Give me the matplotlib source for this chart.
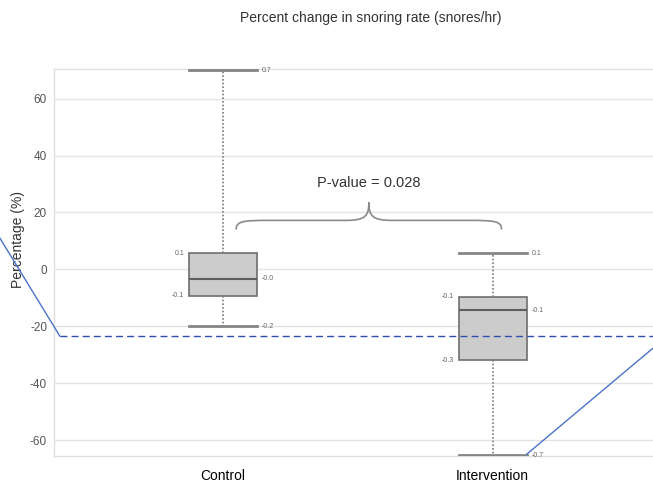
import matplotlib
matplotlib.use("Agg")
import matplotlib.pyplot as plt
from matplotlib.path import Path
from matplotlib.patches import PathPatch

# ---- data ----
groups = ["Control", "Intervention"]
whislo = [-20.0, -65.3]
q1 = [-9.2, -32.0]
med = [-3.3, -14.4]
q3 = [5.6, -9.6]
whishi = [70.0, 5.6]
lbl_whishi = ["0.7", "0.1"]
lbl_q3 = ["0.1", "-0.1"]
lbl_med = ["-0.0", "-0.1"]
lbl_q1 = ["-0.1", "-0.3"]
lbl_whislo = ["-0.2", "-0.7"]
yticks = [-60, -40, -20, 0, 20, 40, 60]
ref_line_y = -23.5
left_line_x = [0.171, 0.394]
left_line_y = [11.0, -23.5]
right_line_x = [2.126, 2.595]
right_line_y = [-65.0, -27.7]
brace_x = [1.048, 2.033]
brace_y = [14.0, 17.2, 23.5]
p_text = "P-value = 0.028"
title = "Percent change in snoring rate (snores/hr)"

plt.rcParams['font.family'] = ['Liberation Sans', 'DejaVu Sans']

fig = plt.figure(figsize=(6.53, 4.82), dpi=100)
ax = fig.add_axes([54/653, 1-456/482, 1-54/653, (456-69)/482])

positions = [1, 2]
width = 0.253
stats = []
for i, g in enumerate(groups):
    stats.append(dict(label=g, whislo=whislo[i], q1=q1[i], med=med[i],
                      q3=q3[i], whishi=whishi[i], fliers=[]))

ax.bxp(stats, positions=positions, widths=width, showfliers=False,
       patch_artist=True,
       boxprops=dict(facecolor='#cccccc', edgecolor='#6e6e6e', linewidth=1.2),
       medianprops=dict(color='#5e5e5e', linewidth=1.5),
       whiskerprops=dict(color='#7a7a7a', linestyle=(0, (1, 1.2)), linewidth=1.2),
       capprops=dict(color='#858585', linewidth=2.0),
       capwidths=width, zorder=3)

ax.set_xlim(0.372, 2.595)
ax.set_ylim(-65.6, 70.4)
ax.set_yticks(yticks)
ax.set_yticklabels([str(t) for t in yticks], color='#555555', fontsize=8.5)
ax.tick_params(axis='y', length=0, pad=5)
ax.tick_params(axis='x', length=0, pad=9, labelsize=10)
ax.grid(axis='y', color='#e3e3e3', linewidth=1.0, zorder=0)
ax.set_axisbelow(True)
for s in ['top', 'bottom', 'left']:
    ax.spines[s].set_color('#e0e0e0')
    ax.spines[s].set_linewidth(1.0)
ax.spines['right'].set_visible(False)

ax.set_ylabel("Percentage (%)", fontsize=10, color='#333333')
ax.yaxis.set_label_coords(-0.049, 0.56)

# value labels
fs = 5
lc = '#666666'
off = 0.018
for i, p in enumerate(positions):
    ax.text(p + width/2 + off, whishi[i], lbl_whishi[i], fontsize=fs, color=lc, ha='left', va='center')
    ax.text(p - width/2 - off, q3[i], lbl_q3[i], fontsize=fs, color=lc, ha='right', va='center')
    ax.text(p + width/2 + off, med[i], lbl_med[i], fontsize=fs, color=lc, ha='left', va='center')
    ax.text(p - width/2 - off, q1[i], lbl_q1[i], fontsize=fs, color=lc, ha='right', va='center')
    ax.text(p + width/2 + off, whislo[i], lbl_whislo[i], fontsize=fs, color=lc, ha='left', va='center')

# reference dashed line and blue lines
ax.plot([left_line_x[1], right_line_x[1]], [ref_line_y, ref_line_y], color='#2f4fb0',
        linewidth=1.0, dashes=(5, 3), zorder=4, clip_on=False)
ax.plot(left_line_x, left_line_y, color='#4a73c9', linewidth=1.0, clip_on=False, zorder=4)
ax.plot(right_line_x, right_line_y, color='#4a73c9', linewidth=1.0, clip_on=False, zorder=4)

# brace
x0, x1 = brace_x
xm = (x0 + x1) / 2
ye, yh, yp = brace_y
a = 0.12
b = 0.085
verts = [
    (x0, ye),
    (x0, ye + (yh - ye) * 0.9), (x0 + a * 0.2, yh), (x0 + a, yh),
    (xm - b, yh),
    (xm - b * 0.15, yh), (xm, yh + (yp - yh) * 0.25), (xm, yp),
    (xm, yh + (yp - yh) * 0.25), (xm + b * 0.15, yh), (xm + b, yh),
    (x1 - a, yh),
    (x1 - a * 0.2, yh), (x1, ye + (yh - ye) * 0.9), (x1, ye),
]
codes = [Path.MOVETO,
         Path.CURVE4, Path.CURVE4, Path.CURVE4,
         Path.LINETO,
         Path.CURVE4, Path.CURVE4, Path.CURVE4,
         Path.CURVE4, Path.CURVE4, Path.CURVE4,
         Path.LINETO,
         Path.CURVE4, Path.CURVE4, Path.CURVE4]
ax.add_patch(PathPatch(Path(verts, codes), facecolor='none', edgecolor='#8a8a8a',
                       linewidth=1.2, zorder=4))
ax.text(xm, 30.5, p_text, fontsize=10.5, color='#333333', ha='center', va='center')

fig.text(371/653, 1 - 18/482, title, fontsize=10, color='#333333', ha='center', va='center')

fig.savefig("out.png", dpi=100)
